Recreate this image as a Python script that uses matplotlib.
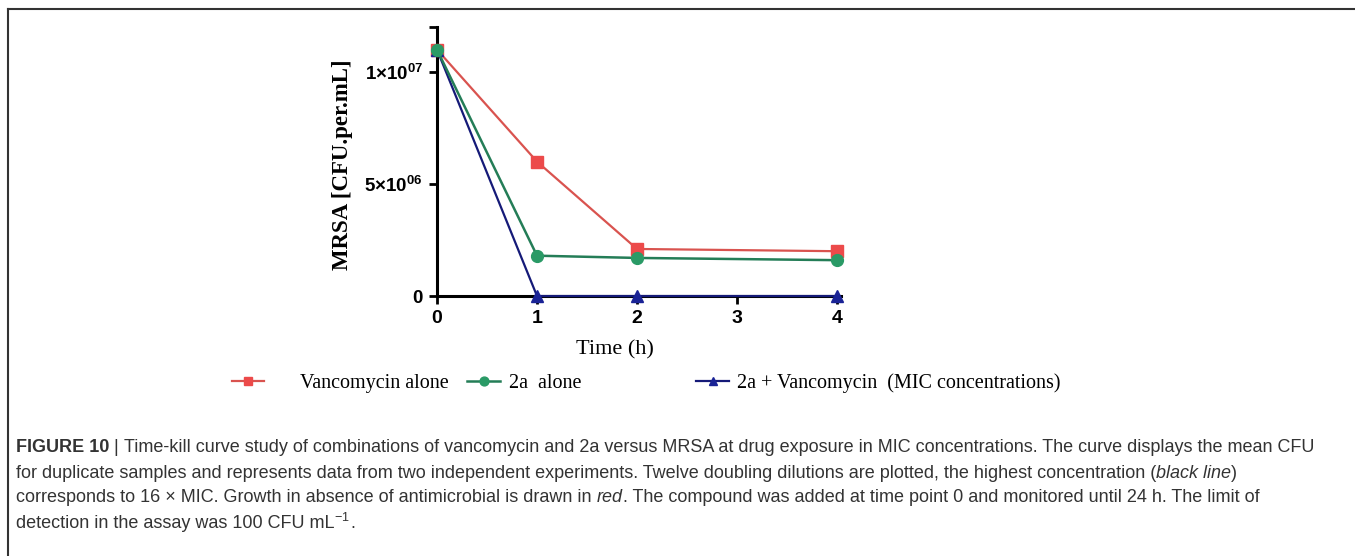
import matplotlib
matplotlib.use("Agg")
import matplotlib.pyplot as plt
from matplotlib import font_manager
from matplotlib.lines import Line2D

# ---------------------------------------------------------------
# Time-kill data (MRSA, CFU per mL)
# ---------------------------------------------------------------
time_h = [0, 1, 2, 4]
vanco_alone = [1.10e7, 6.0e6, 2.1e6, 2.0e6]
cmpd_alone = [1.10e7, 1.8e6, 1.7e6, 1.6e6]
combo = [1.10e7, 0, 0, 0]

series_labels = ["Vancomycin alone", "2a  alone", "2a + Vancomycin  (MIC concentrations)"]
xtick_vals = [0, 1, 2, 3, 4]
ytick_vals = [0, 5e6, 1e7, 1.2e7]
ytick_text = ["0", r"5×10$^{\mathbf{06}}$", r"1×10$^{\mathbf{07}}$", ""]

installed = {f.name for f in font_manager.fontManager.ttflist}
narrow = "Liberation Sans Narrow" if "Liberation Sans Narrow" in installed else "Liberation Sans"

plt.rcParams["mathtext.fontset"] = "custom"
plt.rcParams["mathtext.bf"] = "Liberation Sans:bold"
plt.rcParams["mathtext.rm"] = "Liberation Sans"

fig = plt.figure(figsize=(13.55, 5.56), dpi=100)
ax = fig.add_axes([0.3225, 0.4676, 0.2982, 0.4835])

navy = "#151a78"
l1, = ax.plot(time_h, vanco_alone, color="#d9534f", lw=1.6, marker="s", ms=8.5,
              mfc="#ec4a4a", mec="#ec4a4a", zorder=3, clip_on=False)
l3, = ax.plot(time_h, combo, color=navy, lw=1.6, marker="^", ms=8,
              mfc="#1a2396", mec="#1a2396", zorder=4, clip_on=False)
l2, = ax.plot(time_h, cmpd_alone, color="#247d57", lw=1.8, marker="o", ms=8.5,
              mfc="#2a9a66", mec="#2a9a66", zorder=5, clip_on=False)

ax.set_xlim(0, 4.04)
ax.set_ylim(0, 1.2e7)
ax.set_xticks(xtick_vals)
ax.set_xticklabels([str(v) for v in xtick_vals], fontfamily="Liberation Sans",
                   fontweight="bold", fontsize=14)
ax.set_yticks(ytick_vals)
ax.set_yticklabels(ytick_text, fontfamily="Liberation Sans", fontweight="bold", fontsize=13.5)
ax.tick_params(direction="out", length=6, width=2, color="black", pad=4)

for side in ["top", "right"]:
    ax.spines[side].set_visible(False)
for side in ["left", "bottom"]:
    ax.spines[side].set_linewidth(2.2)

ax.set_ylabel("MRSA [CFU.per.mL]", fontfamily="Liberation Serif", fontweight="bold",
              fontsize=16.5)
ax.yaxis.set_label_coords(-0.208, 0.49)
ax.set_xlabel("Time (h)", fontfamily="Liberation Serif", fontsize=16)
ax.xaxis.set_label_coords(0.44, -0.165)

# legend row, one entry per series
legend_x = [0.171, 0.345, 0.514]
text_pad = [1.8, 0.45, 0.4]
for h, lab, x, pad in zip([l1, l2, l3], series_labels, legend_x, text_pad):
    fig.legend([h], [lab], loc="center left", bbox_to_anchor=(x, 0.311), frameon=False,
               prop={"family": "Liberation Serif", "size": 14.5}, handlelength=1.6,
               handletextpad=pad, markerscale=0.75, borderaxespad=0, borderpad=0)

# frame lines on the left and top edges
fig.add_artist(Line2D([0.006, 0.006], [0, 0.984], color="#333333", lw=1.5))
fig.add_artist(Line2D([0.006, 1.0], [0.984, 0.984], color="#333333", lw=1.5))

# caption, drawn as runs of differently styled text
caption = [
    [("FIGURE 10", "bold", "normal"), (" | ", "normal", "normal"),
     ("Time-kill curve study of combinations of vancomycin and 2a versus MRSA at drug exposure in MIC concentrations. The curve displays the mean CFU", "normal", "normal")],
    [("for duplicate samples and represents data from two independent experiments. Twelve doubling dilutions are plotted, the highest concentration (", "normal", "normal"),
     ("black line", "normal", "italic"), (")", "normal", "normal")],
    [("corresponds to 16 × MIC. Growth in absence of antimicrobial is drawn in ", "normal", "normal"),
     ("red", "normal", "italic"),
     (". The compound was added at time point 0 and monitored until 24 h. The limit of", "normal", "normal")],
    [("detection in the assay was 100 CFU mL", "normal", "normal"), (r"$^{-1}$", "normal", "normal"),
     (".", "normal", "normal")],
]
line_y = [448, 473, 498, 523]

fig.canvas.draw()
renderer = fig.canvas.get_renderer()
for runs, yp in zip(caption, line_y):
    x = 16 / 1355
    for txt, weight, style in runs:
        t = fig.text(x, 1 - yp / 556, txt, fontfamily=narrow, fontsize=13,
                     fontweight=weight, fontstyle=style, color="#333333", va="center")
        bb = t.get_window_extent(renderer)
        x += bb.width / fig.bbox.width

fig.savefig("out.png", dpi=100)
